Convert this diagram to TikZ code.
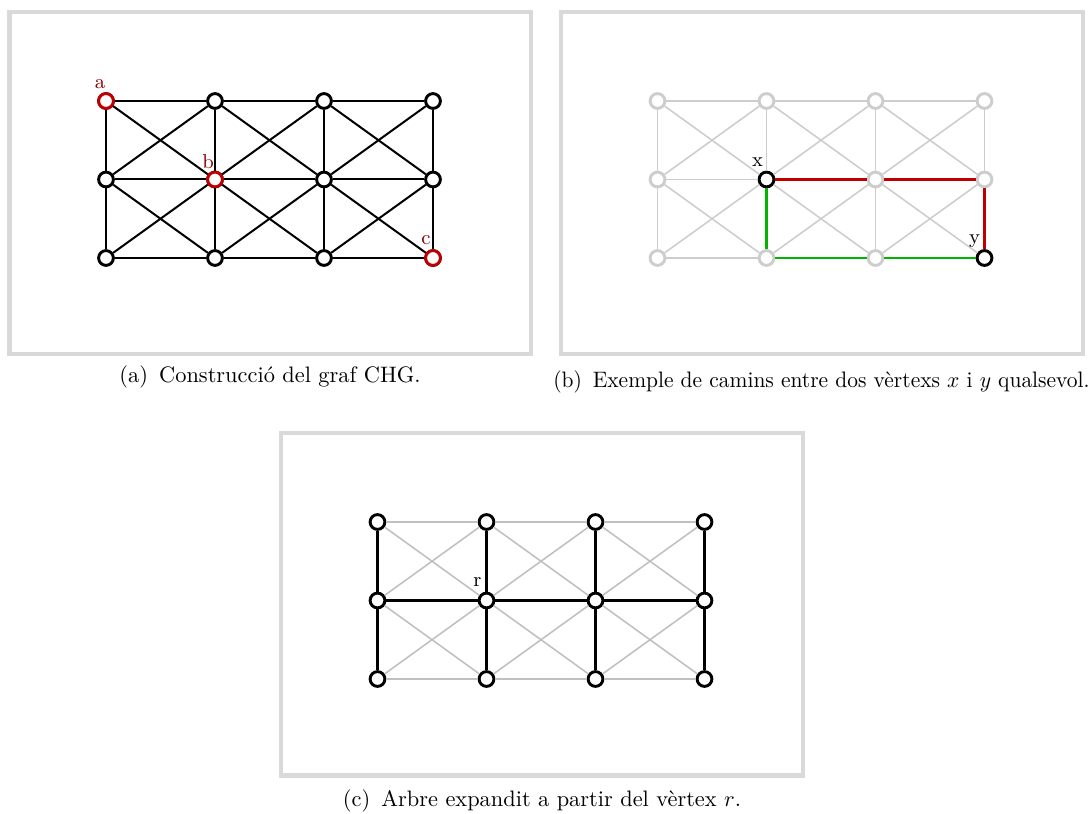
\documentclass[tikz,border=0pt]{standalone}
\usepackage{fontspec}
\usepackage{tikz}
\usetikzlibrary{positioning, calc}

\definecolor{boxgray}{RGB}{217,217,217}
\definecolor{markred}{RGB}{192,0,0}
\definecolor{labred}{RGB}{140,0,0}
\definecolor{pathgreen}{RGB}{0,180,0}
\definecolor{fadegray}{RGB}{205,205,205}
\definecolor{edgegray}{RGB}{192,192,192}

\begin{document}
\begin{tikzpicture}[
    x=0.447pt, y=-0.447pt,
    panel/.style={draw=boxgray, line width=1.8pt},
    vtx/.style={circle, draw=black, fill=white, line width=1.3pt, minimum size=6.6pt, inner sep=0pt},
    edge/.style={draw=black, line width=0.9pt},
    faded/.style={draw=fadegray, line width=0.7pt},
    thin edge/.style={draw=edgegray, line width=0.7pt},
    tree edge/.style={draw=black, line width=1.4pt},
    lbl/.style={font=\small, inner sep=0pt},
    caption/.style={anchor=base, font=\normalsize}
]
\useasboundingbox (0,0) rectangle (1092,814);

% Kaders
\draw[panel] (9.5,12) rectangle (531,354);
\draw[panel] (561,12) rectangle (1083,354);
\draw[panel] (281,433) rectangle (803,775.5);

% (a) Constructie van de graaf
\begin{scope}[shift={(106,101)}]
\foreach \i in {0,...,3}
  \foreach \j in {0,...,2}
    \node[vtx] (a-\i-\j) at (109*\i, 78.5*\j) {};
\node[vtx, draw=markred] at (a-0-0) {};
\node[vtx, draw=markred] at (a-1-1) {};
\node[vtx, draw=markred] at (a-3-2) {};
\foreach \i in {0,...,2} {
    \pgfmathtruncatemacro{\k}{\i+1}
    \foreach \j in {0,...,2}
        \draw[edge] (a-\i-\j) -- (a-\k-\j);
    \foreach \j in {0,1} {
        \pgfmathtruncatemacro{\m}{\j+1}
        \draw[edge] (a-\i-\j) -- (a-\k-\m);
        \draw[edge] (a-\k-\j) -- (a-\i-\m);
    }
}
\foreach \i in {0,...,3}
    \foreach \j/\m in {0/1,1/2}
        \draw[edge] (a-\i-\j) -- (a-\i-\m);
\node[lbl, text=labred] (la) at ([shift={(-6,-17)}]a-0-0) {a};
\node[lbl, text=labred] (lb) at ([shift={(-7,-18)}]a-1-1) {b};
\node[lbl, text=labred] (lc) at ([shift={(-7,-18)}]a-3-2) {c};
\end{scope}

% (b) Paden tussen x en y
\begin{scope}[shift={(657.5,101)}]
\foreach \i in {0,...,3}
  \foreach \j in {0,...,2}
    \node[vtx, draw=fadegray] (b-\i-\j) at (109*\i, 78.5*\j) {};
\node[vtx] at (b-1-1) {};
\node[vtx] at (b-3-2) {};
\foreach \i in {0,...,2} {
    \pgfmathtruncatemacro{\k}{\i+1}
    \foreach \j in {0,...,2}
        \draw[faded] (b-\i-\j) -- (b-\k-\j);
    \foreach \j in {0,1} {
        \pgfmathtruncatemacro{\m}{\j+1}
        \draw[faded] (b-\i-\j) -- (b-\k-\m);
        \draw[faded] (b-\k-\j) -- (b-\i-\m);
    }
}
\foreach \i in {0,...,3}
    \foreach \j/\m in {0/1,1/2}
        \draw[faded] (b-\i-\j) -- (b-\i-\m);
\draw[draw=markred, line width=1.1pt] (b-1-1) -- (b-2-1) -- (b-3-1) -- (b-3-2);
\draw[draw=pathgreen, line width=1.1pt] (b-1-1) -- (b-1-2) -- (b-2-2) -- (b-3-2);
\node[lbl] (lx) at ([shift={(-9,-17)}]b-1-1) {x};
\node[lbl] (ly) at ([shift={(-10,-17)}]b-3-2) {y};
\end{scope}

% (c) Opspannende boom vanuit r
\begin{scope}[shift={(377.5,522)}]
\foreach \i in {0,...,3}
  \foreach \j in {0,...,2}
    \node[vtx] (c-\i-\j) at (109*\i, 78.5*\j) {};
\foreach \i in {0,...,2} {
    \pgfmathtruncatemacro{\k}{\i+1}
    \foreach \j in {0,2}
        \draw[thin edge] (c-\i-\j) -- (c-\k-\j);
    \draw[tree edge] (c-\i-1) -- (c-\k-1);
    \foreach \j in {0,1} {
        \pgfmathtruncatemacro{\m}{\j+1}
        \draw[thin edge] (c-\i-\j) -- (c-\k-\m);
        \draw[thin edge] (c-\k-\j) -- (c-\i-\m);
    }
}
\foreach \i in {0,...,3}
    \foreach \j/\m in {0/1,1/2}
        \draw[tree edge] (c-\i-\j) -- (c-\i-\m);
\node[lbl] (lr) at ([shift={(-9,-18)}]c-1-1) {r};
\end{scope}

% Onderschriften
\node[caption] (capa) at (270,383) {(a)\enspace Construcció del graf CHG.};
\node[caption] (capb) at (821.5,388) {\scalebox{0.96}[1]{(b)\enspace Exemple de camins entre dos vèrtexs $x$ i $y$ qualsevol.}};
\node[caption] (capc) at (542,807) {(c)\enspace Arbre expandit a partir del vèrtex $r$.};

\end{tikzpicture}
\end{document}
